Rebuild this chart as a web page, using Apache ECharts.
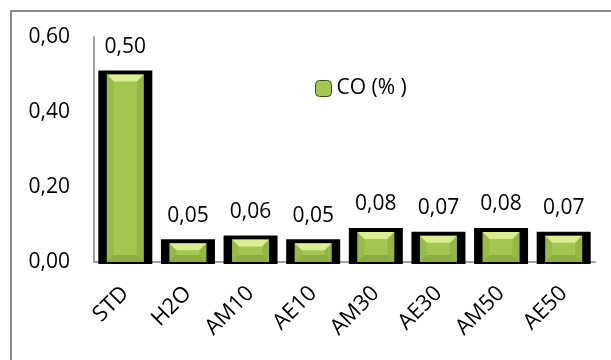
<!DOCTYPE html>
<html>
<head>
<meta charset="utf-8">
<script src="https://cdn.jsdelivr.net/npm/echarts@6/dist/echarts.min.js"></script>
<style>
  html, body { margin: 0; padding: 0; background: #fff; }
  #chart { width: 611px; height: 360px; }
</style>
</head>
<body>
<div id="chart"></div>
<script>
// CO emissions per fuel blend
const categories = ['STD', 'H2O', 'AM10', 'AE10', 'AM30', 'AE30', 'AM50', 'AE50'];
const coValues = [0.50, 0.05, 0.06, 0.05, 0.08, 0.07, 0.08, 0.07];
const seriesName = 'CO (% )';
const yTicks = { min: 0, max: 0.6, interval: 0.2 };

const FONT = '"Open Sans", "Noto Sans", sans-serif';
const fmt = v => v.toFixed(2).replace('.', ',');

const BAR_W = 37;     // green column width
const FRAME_W = 54;   // dark frame width
const BEVEL = 7;

const pairs = coValues.map((v, i) => [i, v]);

// dark frame drawn behind each column
function renderFrame(params, api) {
  const top = api.coord([api.value(0), api.value(1)]);
  const base = api.coord([api.value(0), 0]);
  return {
    type: 'rect',
    shape: { x: top[0] - FRAME_W / 2, y: top[1] - 4, width: FRAME_W, height: base[1] - top[1] + 6 },
    style: { fill: '#000' }
  };
}

// bevelled facets laid over each column
function renderBevel(params, api) {
  const top = api.coord([api.value(0), api.value(1)]);
  const base = api.coord([api.value(0), 0]);
  const x0 = top[0] - BAR_W / 2, x1 = top[0] + BAR_W / 2;
  const y0 = top[1], y1 = base[1];
  const b = Math.min(BEVEL, (y1 - y0) / 2);
  const poly = (pts, fill) => ({ type: 'polygon', shape: { points: pts }, style: { fill } });
  return {
    type: 'group',
    children: [
      poly([[x0, y0], [x1, y0], [x1 - b, y0 + b], [x0 + b, y0 + b]], 'rgba(235,250,170,0.75)'),
      poly([[x0, y0], [x0 + b, y0 + b], [x0 + b, y1 - b], [x0, y1]], 'rgba(60,80,10,0.10)'),
      poly([[x1, y0], [x1 - b, y0 + b], [x1 - b, y1 - b], [x1, y1]], 'rgba(60,80,10,0.14)'),
      poly([[x0, y1], [x0 + b, y1 - b], [x1 - b, y1 - b], [x1, y1]], 'rgba(60,80,10,0.22)')
    ]
  };
}

const chart = echarts.init(document.getElementById('chart'));
chart.setOption({
  animation: false,
  textStyle: { fontFamily: FONT },
  graphic: [{
    type: 'rect',
    shape: { x: 11, y: 11, width: 700, height: 400 },
    style: { fill: 'none', stroke: '#8a8a8a', lineWidth: 2 },
    silent: true
  }],
  grid: { left: 94, right: 16, top: 37, bottom: 98 },
  legend: {
    data: [seriesName],
    left: 310, top: 73,
    itemWidth: 16, itemHeight: 16,
    itemGap: 6,
    itemStyle: { borderColor: '#3d4f18', borderWidth: 1 },
    textStyle: { fontFamily: FONT, fontSize: 21, color: '#000' }
  },
  xAxis: {
    type: 'category',
    data: categories,
    axisLine: { lineStyle: { color: '#a0a0a0', width: 2 } },
    axisTick: { show: false },
    axisLabel: { rotate: 45, fontSize: 22, color: '#000', margin: 28, fontFamily: FONT }
  },
  yAxis: {
    type: 'value',
    min: yTicks.min, max: yTicks.max, interval: yTicks.interval,
    axisLine: { show: true, lineStyle: { color: '#a0a0a0', width: 2 } },
    axisTick: { show: false },
    splitLine: { show: false },
    axisLabel: { formatter: fmt, fontSize: 21, color: '#000', margin: 24, fontFamily: FONT }
  },
  series: [
    {
      type: 'custom',
      data: pairs,
      renderItem: renderFrame,
      silent: true,
      z: 2
    },
    {
      name: seriesName,
      type: 'bar',
      data: coValues,
      barWidth: BAR_W,
      itemStyle: { color: '#a3c750' },
      label: {
        show: true,
        position: 'top',
        distance: 17,
        formatter: p => fmt(p.value),
        fontSize: 21,
        color: '#000',
        fontFamily: FONT
      },
      z: 3
    },
    {
      type: 'custom',
      data: pairs,
      renderItem: renderBevel,
      silent: true,
      z: 4
    }
  ]
});
</script>
</body>
</html>
